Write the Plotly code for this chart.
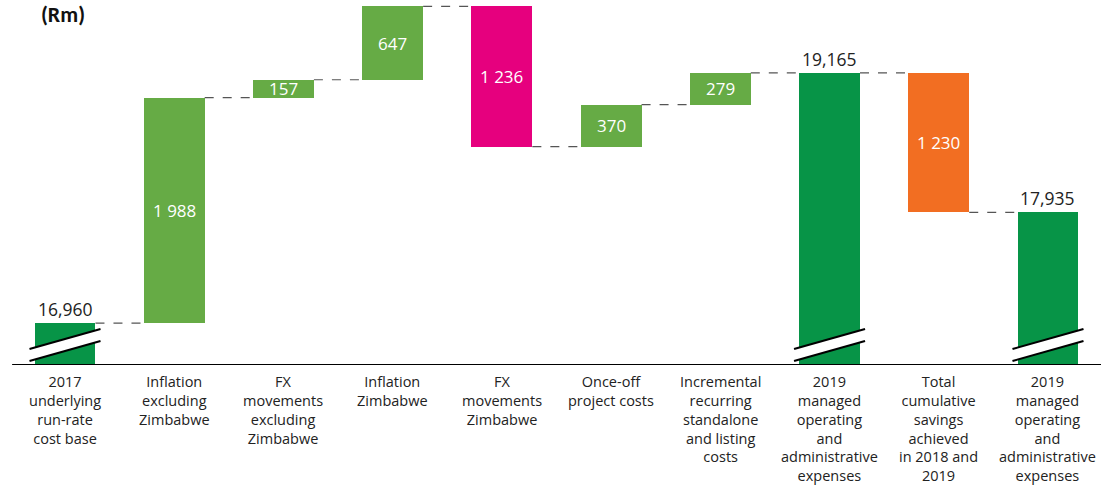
import plotly.graph_objects as go

# Cost bridge 2017 -> 2019 (Rm)
categories = [
    "2017<br>underlying<br>run-rate<br>cost base",
    "Inflation<br>excluding<br>Zimbabwe",
    "FX<br>movements<br>excluding<br>Zimbabwe",
    "Inflation<br>Zimbabwe",
    "FX<br>movements<br>Zimbabwe",
    "Once-off<br>project costs",
    "Incremental<br>recurring<br>standalone<br>and listing<br>costs",
    "2019<br>managed<br>operating<br>and<br>administrative<br>expenses",
    "Total<br>cumulative<br>savings<br>achieved<br>in 2018 and<br>2019",
    "2019<br>managed<br>operating<br>and<br>administrative<br>expenses",
]
measures = ["total", "rel", "rel", "rel", "rel", "rel", "rel", "total", "rel", "total"]
values = [16960, 1988, 157, 647, -1236, 370, 279, 19165, -1230, 17935]
labels = ["16,960", "1 988", "157", "647", "1 236", "370", "279", "19,165", "1 230", "17,935"]
colors = ["#079447", "#66AB45", "#66AB45", "#66AB45", "#E6007E",
          "#66AB45", "#66AB45", "#079447", "#F26E22", "#079447"]

Y_MIN, Y_MAX = 16590, 19808
BAR_W = 0.558
FONT = "Century Gothic, URW Gothic, Open Sans, sans-serif"

# running totals -> floating bar bases and heights
bases, heights, tops = [], [], []
running = 0
for m, v in zip(measures, values):
    if m == "total":
        running = v
        bases.append(Y_MIN)
        heights.append(v - Y_MIN)
    else:
        lo = min(running, running + v)
        bases.append(lo)
        heights.append(abs(v))
        running += v
    tops.append(running)

xs = list(range(len(values)))

fig = go.Figure()
fig.add_trace(go.Bar(
    x=xs, y=heights, base=bases, width=BAR_W,
    marker=dict(color=colors, line=dict(width=0)),
    hoverinfo="skip",
))

shapes = []
annotations = []

# dashed connectors between consecutive bars
for i in range(len(values) - 1):
    shapes.append(dict(
        type="line", xref="x", yref="y",
        x0=i + BAR_W / 2, x1=i + 1 - BAR_W / 2, y0=tops[i], y1=tops[i],
        line=dict(color="#555555", width=1.2, dash="dash"),
    ))

# bar labels
for i, (m, lab) in enumerate(zip(measures, labels)):
    if m == "total":
        annotations.append(dict(
            x=i, y=tops[i], xref="x", yref="y", text=lab, showarrow=False,
            yanchor="bottom", yshift=0,
            font=dict(family=FONT, size=17.5, color="#222222"),
        ))
    else:
        annotations.append(dict(
            x=i, y=bases[i] + heights[i] / 2, xref="x", yref="y", text=lab,
            showarrow=False, yanchor="middle",
            font=dict(family=FONT, size=17, color="#ffffff"),
        ))

# axis-break marks on the total bars
hw = 0.325
for i, m in enumerate(measures):
    if m != "total":
        continue
    a0, a1 = 16731, 16907   # upper line, left/right
    b0, b1 = 16625, 16802   # lower line, left/right
    shapes.append(dict(
        type="path", xref="x", yref="y",
        path=f"M {i - hw},{a0} L {i + hw},{a1} L {i + hw},{b1} L {i - hw},{b0} Z",
        fillcolor="#ffffff", line=dict(width=0),
    ))
    for y0, y1 in ((a0, a1), (b0, b1)):
        shapes.append(dict(
            type="line", xref="x", yref="y",
            x0=i - hw, x1=i + hw, y0=y0, y1=y1,
            line=dict(color="#000000", width=2),
        ))

# baseline
shapes.append(dict(
    type="line", xref="paper", yref="y", x0=0.011, x1=1, y0=Y_MIN, y1=Y_MIN,
    line=dict(color="#000000", width=2),
))

# category labels
for i, c in enumerate(categories):
    annotations.append(dict(
        x=i, y=0, xref="x", yref="paper", text=c, showarrow=False,
        yanchor="top", yshift=-5,
        font=dict(family=FONT, size=14.5, color="#222222"),
    ))

# unit label
annotations.append(dict(
    x=39 / 1101, y=1, xref="paper", yref="paper", xanchor="left", yanchor="top",
    yshift=1, text="<b>(Rm)</b>", showarrow=False,
    font=dict(family="Carlito, Open Sans, sans-serif", size=22, color="#111111"),
))

fig.update_layout(
    width=1101, height=488,
    margin=dict(l=0, r=0, t=0, b=123),
    paper_bgcolor="#ffffff", plot_bgcolor="#ffffff",
    showlegend=False,
    bargap=0,
    xaxis=dict(range=[-65 / 109.22, (1101 - 65) / 109.22], visible=False, fixedrange=True),
    yaxis=dict(range=[Y_MIN, Y_MAX], visible=False, fixedrange=True),
    shapes=shapes,
    annotations=annotations,
)

fig.write_html("out.html")
